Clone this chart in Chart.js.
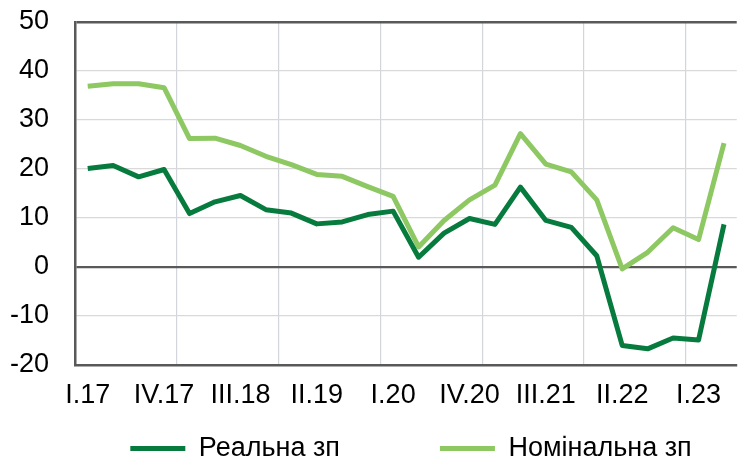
<!DOCTYPE html>
<html>
<head>
<meta charset="utf-8">
<script src="https://cdn.jsdelivr.net/npm/chart.js@4/dist/chart.umd.min.js"></script>
<style>
  html, body { margin: 0; padding: 0; background: #fff; }
  #wrap { width: 738px; height: 463px; }
</style>
</head>
<body>
<div id="wrap"><canvas id="wageChart"></canvas></div>
<script>
// Quarters I.17 .. II.23
const quarters = [
    'I.17', 'II.17', 'III.17', 'IV.17',
    'I.18', 'II.18', 'III.18', 'IV.18',
    'I.19', 'II.19', 'III.19', 'IV.19',
    'I.20', 'II.20', 'III.20', 'IV.20',
    'I.21', 'II.21', 'III.21', 'IV.21',
    'I.22', 'II.22', 'III.22', 'IV.22',
    'I.23', 'II.23'
];

// Wage growth, % y/y
const realWage = [
    20.1, 20.7, 18.4, 19.9, 10.9, 13.3, 14.6, 11.7, 11.0, 8.8, 9.2, 10.7, 11.4,
    2.0, 6.9, 9.9, 8.7, 16.3, 9.5, 8.1, 2.3, -16.0, -16.7, -14.5, -14.9, 8.7
];
const nominalWage = [
    36.9, 37.4, 37.4, 36.6, 26.2, 26.3, 24.8, 22.6, 20.9, 18.9, 18.5, 16.4, 14.4,
    4.1, 9.5, 13.7, 16.7, 27.2, 21.0, 19.4, 13.7, -0.4, 3.0, 8.0, 5.6, 25.3
];

const yTicks = [-20, -10, 0, 10, 20, 30, 40, 50];

const darkGreen = '#077B3E';
const lightGreen = '#8DC862';
const axisGrey = '#595959';
const fontFamily = '"Liberation Sans", Arial, sans-serif';

// the original legend sits a bit right of centre and low on the page
const legendNudge = {
    id: 'legendNudge',
    afterLayout(chart) {
        const lg = chart.legend;
        lg.left += 84;
        lg.top += 9;
        lg.bottom += 9;
    }
};

const ctx = document.getElementById('wageChart').getContext('2d');
new Chart(ctx, {
    type: 'line',
    data: {
        labels: quarters,
        datasets: [
            {
                label: 'Реальна зп',
                data: realWage,
                borderColor: darkGreen,
                backgroundColor: darkGreen,
                borderWidth: 5,
                pointRadius: 0,
                tension: 0,
                borderJoinStyle: 'round'
            },
            {
                label: 'Номінальна зп',
                data: nominalWage,
                borderColor: lightGreen,
                backgroundColor: lightGreen,
                borderWidth: 5,
                pointRadius: 0,
                tension: 0,
                borderJoinStyle: 'round'
            }
        ]
    },
    options: {
        responsive: true,
        maintainAspectRatio: false,
        animation: false,
        layout: { padding: { top: 22, right: 0, bottom: 0, left: 0 } },
        scales: {
            x: {
                offset: true,
                afterFit: (scale) => { scale.height = 51; },
                grid: {
                    offset: true,
                    drawTicks: false,
                    color: (c) => (c.index > 0 && c.index % 4 === 0) ? '#D2D5DB' : 'transparent',
                    lineWidth: 1.2
                },
                border: { color: axisGrey, width: 2.5 },
                ticks: {
                    autoSkip: false,
                    maxRotation: 0,
                    padding: 14,
                    color: '#000',
                    font: { size: 27, family: fontFamily },
                    callback: (v, i) => (i % 3 === 0 ? quarters[i] : '')
                }
            },
            y: {
                min: -20,
                max: 50,
                afterFit: (scale) => {
                    scale.width = 75;
                    // tick padding is meant for the horizontal gap only
                    scale.paddingTop = 0;
                    scale.paddingBottom = 0;
                },
                afterBuildTicks: (scale) => {
                    scale.ticks = yTicks.map(v => ({ value: v }));
                },
                grid: {
                    drawTicks: false,
                    color: (c) => {
                        const v = c.tick && c.tick.value;
                        return (v === 0 || v === 50) ? axisGrey : '#D9D9D9';
                    },
                    lineWidth: (c) => {
                        const v = c.tick && c.tick.value;
                        return v === 0 ? 2.2 : (v === 50 ? 2.5 : 1.2);
                    }
                },
                border: { color: axisGrey, width: 2.5 },
                ticks: {
                    padding: 26,
                    color: '#000',
                    font: { size: 27, family: fontFamily }
                }
            }
        },
        plugins: {
            legend: {
                position: 'bottom',
                labels: {
                    boxWidth: 55,
                    boxHeight: 5,
                    padding: 10,
                    color: '#000',
                    font: { size: 27, family: fontFamily },
                    generateLabels: (chart) => {
                        const items = Chart.defaults.plugins.legend.labels.generateLabels(chart);
                        items.forEach((it, i) => {
                            it.lineWidth = 0;
                            it.fillStyle = it.strokeStyle;
                            // wide gap between the two entries, as in the source
                            if (i === 0) it.text = it.text + '\u00A0'.repeat(12);
                        });
                        return items;
                    }
                }
            },
            tooltip: { enabled: false }
        }
    },
    plugins: [legendNudge]
});
</script>
</body>
</html>
